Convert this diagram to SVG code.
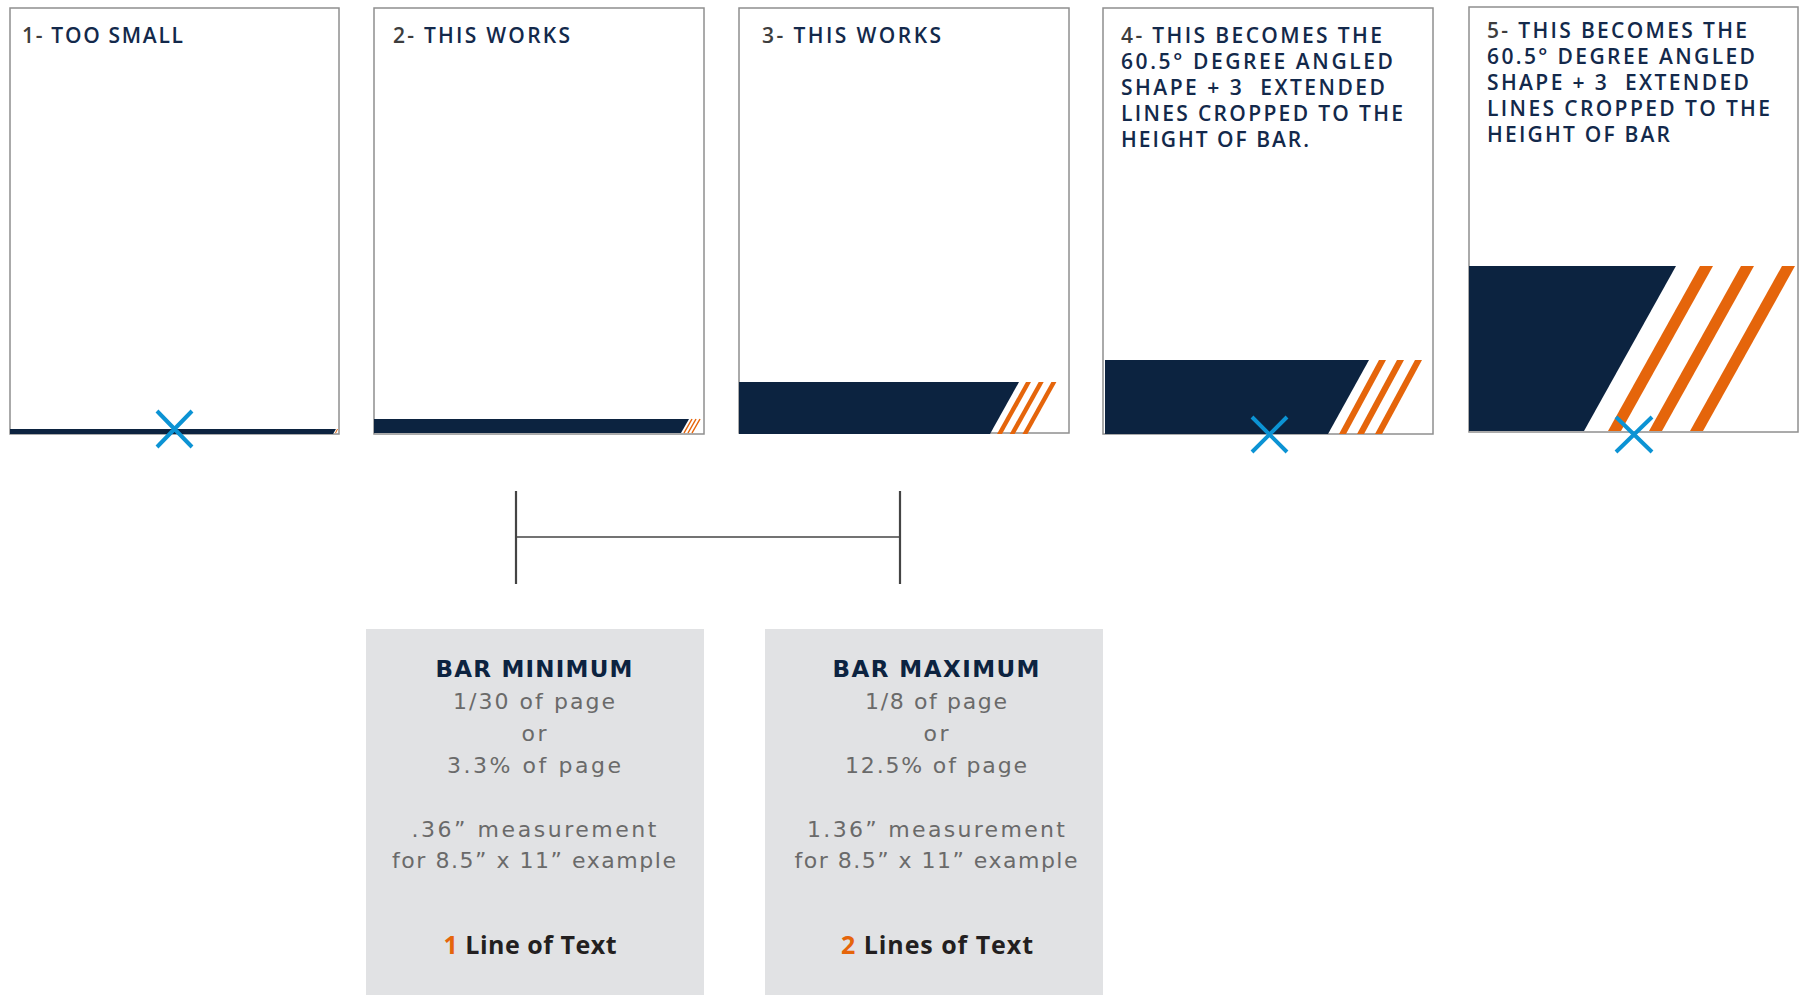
<svg xmlns="http://www.w3.org/2000/svg" width="1799" height="995" viewBox="0 0 1799 995">
<style>
.page{fill:#fff;stroke:#8f8f8f;stroke-width:1.5}
.navy{fill:#0c2340}
.orng{fill:#e5650b}
.xm{stroke:#0c93d4;stroke-width:4;fill:none}
.ttl{font-family:"Open Sans","DejaVu Sans",sans-serif;font-size:21px;font-weight:600;fill:#13294b}
.num{fill:#3d3d3d}
.card{fill:#e1e2e4}
.hd{font-family:"DejaVu Sans","Open Sans",sans-serif;font-size:23px;font-weight:700;fill:#0c2340;text-anchor:middle}
.bd{font-family:"DejaVu Sans","Open Sans",sans-serif;font-size:22px;font-weight:400;fill:#6a6a6a;text-anchor:middle}
.ln{font-family:"Open Sans","DejaVu Sans",sans-serif;font-size:25px;font-weight:700;fill:#231f20;text-anchor:middle}
.on{fill:#e5650b}
.dim{stroke:#444;fill:none}
</style>
<rect x="0" y="0" width="1799" height="995" fill="#fff"/>

<g id="page1">
<rect class="page" x="10" y="8" width="329" height="426"/>
<polygon class="navy" points="10,429 336,429 333,434 10,434"/>
<polygon class="orng" points="337,429 338,429 336,433 335,433"/>
<text class="ttl" x="22" y="43" textLength="161" lengthAdjust="spacing"><tspan class="num">1-</tspan> TOO SMALL</text>
<path class="xm" d="M157,411 L192,447 M192,411 L157,447"/>
</g>

<g id="page2">
<rect class="page" x="374" y="8" width="330" height="426"/>
<polygon class="navy" points="374,419 689,419 681,433 374,433"/>
<path d="M692,419 L684,433 M696,419 L688,433 M700,419 L692,433" stroke="#e5650b" stroke-width="1.5"/>
<text class="ttl" x="393" y="43" textLength="177" lengthAdjust="spacing"><tspan class="num">2-</tspan> THIS WORKS</text>
</g>

<g id="page3">
<rect class="page" x="739" y="8" width="330" height="425"/>
<polygon class="navy" points="739,382 1019,382 990,434 739,434"/>
<polygon class="orng" points="1026,382 1031,382 1002,434 997,434"/>
<polygon class="orng" points="1038.7,382 1043.7,382 1014.7,434 1009.7,434"/>
<polygon class="orng" points="1051.4,382 1056.4,382 1027.4,434 1022.4,434"/>
<text class="ttl" x="762" y="43" textLength="179" lengthAdjust="spacing"><tspan class="num">3-</tspan> THIS WORKS</text>
</g>

<g id="page4">
<rect class="page" x="1103" y="8" width="330" height="426"/>
<polygon class="navy" points="1105,360 1369,360 1328,434 1105,434"/>
<polygon class="orng" points="1379,360 1386,360 1346,434 1339,434"/>
<polygon class="orng" points="1397,360 1404,360 1364,434 1357,434"/>
<polygon class="orng" points="1415,360 1422,360 1382,434 1375,434"/>
<text class="ttl" x="1121" y="43" textLength="261" lengthAdjust="spacing"><tspan class="num">4-</tspan> THIS BECOMES THE</text>
<text class="ttl" x="1121" y="69" textLength="272" lengthAdjust="spacing">60.5° DEGREE ANGLED</text>
<text class="ttl" x="1121" y="95" textLength="264" lengthAdjust="spacing">SHAPE + 3&#160; EXTENDED</text>
<text class="ttl" x="1121" y="121" textLength="282" lengthAdjust="spacing">LINES CROPPED TO THE</text>
<text class="ttl" x="1121" y="147" textLength="188" lengthAdjust="spacing">HEIGHT OF BAR.</text>
<path class="xm" d="M1252,417 L1287,452 M1287,417 L1252,452"/>
</g>

<g id="page5">
<rect class="page" x="1469" y="7" width="329" height="425"/>
<polygon class="navy" points="1469,266 1676,266 1584,431 1469,431"/>
<polygon class="orng" points="1700,266 1713,266 1621,431 1608,431"/>
<polygon class="orng" points="1741,266 1754,266 1662,431 1649,431"/>
<polygon class="orng" points="1782,266 1795,266 1703,431 1690,431"/>
<text class="ttl" x="1487" y="38" textLength="260" lengthAdjust="spacing"><tspan class="num">5-</tspan> THIS BECOMES THE</text>
<text class="ttl" x="1487" y="64" textLength="268" lengthAdjust="spacing">60.5° DEGREE ANGLED</text>
<text class="ttl" x="1487" y="90" textLength="262" lengthAdjust="spacing">SHAPE + 3&#160; EXTENDED</text>
<text class="ttl" x="1487" y="116" textLength="283" lengthAdjust="spacing">LINES CROPPED TO THE</text>
<text class="ttl" x="1487" y="142" textLength="183" lengthAdjust="spacing">HEIGHT OF BAR</text>
<path class="xm" d="M1616,417 L1652,452 M1652,417 L1616,452"/>
</g>

<g id="connectors">
<line class="dim" x1="516" y1="491" x2="516" y2="584" stroke-width="2.2"/>
<line class="dim" x1="900" y1="491" x2="900" y2="584" stroke-width="2.2"/>
<line class="dim" x1="516" y1="537" x2="900" y2="537" stroke-width="1.5" stroke="#555"/>
</g>

<g id="bar-minimum">
<rect class="card" x="366" y="629" width="338" height="366"/>
<text class="hd" x="534" y="677" textLength="197" lengthAdjust="spacing">BAR MINIMUM</text>
<text class="bd" x="534" y="709" textLength="162" lengthAdjust="spacing">1/30 of page</text>
<text class="bd" x="534" y="741" textLength="25" lengthAdjust="spacing">or</text>
<text class="bd" x="534" y="773" textLength="174" lengthAdjust="spacing">3.3% of page</text>
<text class="bd" x="534" y="837" textLength="245" lengthAdjust="spacing">.36” measurement</text>
<text class="bd" x="534" y="868" textLength="284" lengthAdjust="spacing">for 8.5” x 11” example</text>
<text class="ln" x="530" y="954" textLength="173" lengthAdjust="spacing"><tspan class="on">1</tspan> Line of Text</text>
</g>

<g id="bar-maximum">
<rect class="card" x="765" y="629" width="338" height="366"/>
<text class="hd" x="936" y="677" textLength="207" lengthAdjust="spacing">BAR MAXIMUM</text>
<text class="bd" x="936" y="709" textLength="142" lengthAdjust="spacing">1/8 of page</text>
<text class="bd" x="936" y="741" textLength="25" lengthAdjust="spacing">or</text>
<text class="bd" x="936" y="773" textLength="182" lengthAdjust="spacing">12.5% of page</text>
<text class="bd" x="936" y="837" textLength="258" lengthAdjust="spacing">1.36” measurement</text>
<text class="bd" x="936" y="868" textLength="283" lengthAdjust="spacing">for 8.5” x 11” example</text>
<text class="ln" x="937" y="954" textLength="192" lengthAdjust="spacing"><tspan class="on">2</tspan> Lines of Text</text>
</g>
</svg>
